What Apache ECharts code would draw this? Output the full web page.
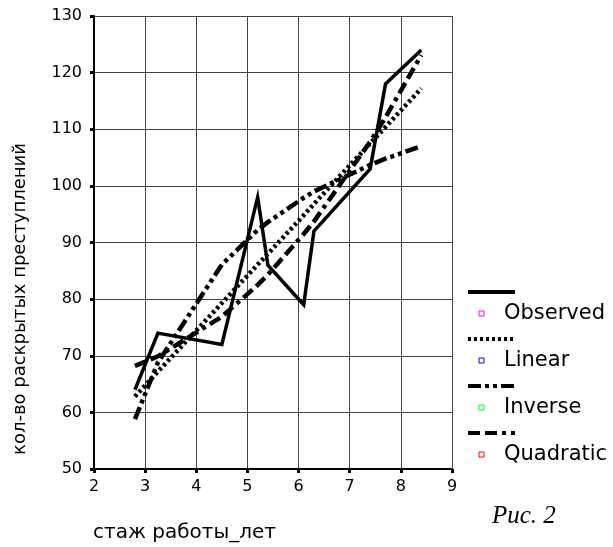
<!DOCTYPE html>
<html>
<head>
<meta charset="utf-8">
<script src="https://cdn.jsdelivr.net/npm/echarts@6/dist/echarts.min.js"></script>
<style>
html, body { margin: 0; padding: 0; background: #fff; }
#chart { width: 613px; height: 547px; }
</style>
</head>
<body>
<div id="chart"></div>
<script>
// стаж работы (x) and fitted curves
var stazh = [2.8, 3.25, 4.5, 5.2, 5.4, 6.1, 6.3, 7.4, 7.7, 8.4];
var observed = [64, 74, 72, 98, 86, 79, 92, 103, 118, 124];
var linear = [62.8, 67.2, 79.3, 86.1, 88.0, 94.8, 96.8, 107.5, 110.4, 117.2];
var inverse = [58.8, 68.8, 86.1, 92.2, 93.6, 97.9, 99.0, 103.7, 104.8, 107.0];
var quadratic = [68.2, 69.9, 76.9, 82.5, 84.3, 91.5, 93.7, 107.8, 112.1, 123.1];
var legendNames = ["Observed", "Linear", "Inverse", "Quadratic"];
var legendMarks = ["#ff00ff", "#0000ff", "#00ff00", "#ff0000"];

var font = "DejaVu Sans";
var dashes = [
  "solid",
  [3, 3],
  [13, 4, 4, 4, 4, 4],
  [12, 5, 12, 5, 4, 5]
];
var seriesData = [observed, linear, inverse, quadratic];

function pairs(ys) {
  return stazh.map(function(x, i) {
    return [x, ys[i]];
  });
}

var chart = echarts.init(document.getElementById("chart"));

var series = seriesData.map(function(ys, i) {
  return {
    name: legendNames[i],
    type: "line",
    symbol: "none",
    silent: true,
    animation: false,
    data: pairs(ys),
    lineStyle: {
      color: "#000",
      width: i == 0 ? 3.5 : 4.5,
      type: dashes[i],
      cap: "butt",
      join: "miter"
    }
  };
});

// legend drawn by hand: a line sample, then a small square and the name below it
var graphic = [];
legendNames.forEach(function(name, i) {
  var y0 = 292 + i * 47;
  graphic.push({
    type: "line",
    shape: { x1: 468, y1: y0, x2: 515, y2: y0 },
    style: {
      stroke: "#000",
      lineWidth: 4,
      lineDash: dashes[i] == "solid" ? null : dashes[i]
    }
  });
  graphic.push({
    type: "rect",
    shape: { x: 479, y: y0 + 19, width: 5, height: 5 },
    style: { fill: "#fff", stroke: legendMarks[i], lineWidth: 1 }
  });
  graphic.push({
    type: "text",
    x: 504,
    y: y0 + 22,
    style: {
      text: name,
      font: "21px '" + font + "'",
      fill: "#000",
      verticalAlign: "middle"
    }
  });
});
graphic.push({
  type: "text",
  x: 93,
  y: 533,
  style: {
    text: "стаж работы_лет",
    font: "20px '" + font + "'",
    fill: "#000",
    verticalAlign: "middle"
  }
});
graphic.push({
  type: "text",
  x: 20,
  y: 299,
  rotation: Math.PI / 2,
  style: {
    text: "кол-во раскрытых преступлений",
    font: "18px '" + font + "'",
    fill: "#000",
    align: "center",
    verticalAlign: "middle"
  }
});
graphic.push({
  type: "text",
  x: 492,
  y: 516,
  style: {
    text: "Рис. 2",
    font: "italic 25px 'Liberation Serif'",
    fill: "#000",
    verticalAlign: "middle"
  }
});

chart.setOption({
  animation: false,
  grid: {
    left: 94,
    right: 161,
    top: 16,
    bottom: 78
  },
  xAxis: {
    type: "value",
    min: 2,
    max: 9,
    interval: 1,
    axisLine: { show: true, onZero: false, lineStyle: { color: "#000", width: 2 } },
    axisTick: { show: true, length: 4, lineStyle: { color: "#000", width: 3 } },
    axisLabel: { color: "#000", fontFamily: font, fontSize: 16, margin: 10 },
    splitLine: { show: true, lineStyle: { color: "#444", width: 1 } }
  },
  yAxis: {
    type: "value",
    min: 50,
    max: 130,
    interval: 10,
    axisLine: { show: true, onZero: false, lineStyle: { color: "#000", width: 2 } },
    axisTick: { show: true, length: 4, lineStyle: { color: "#000", width: 3 } },
    axisLabel: { color: "#000", fontFamily: font, fontSize: 16, margin: 12 },
    splitLine: { show: true, lineStyle: { color: "#444", width: 1 } }
  },
  series: series,
  graphic: graphic
});
</script>
</body>
</html>
